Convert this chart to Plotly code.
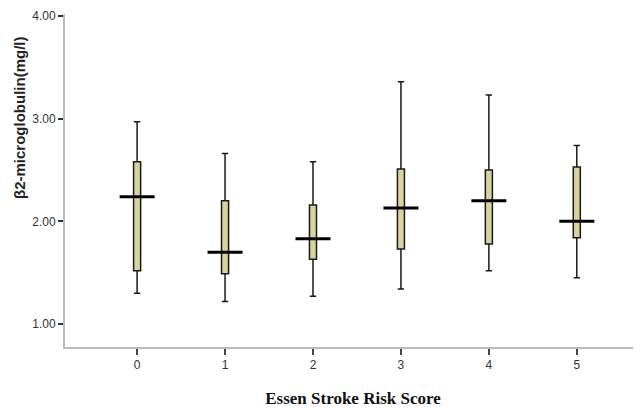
import plotly.graph_objects as go

categories = [0, 1, 2, 3, 4, 5]
tick_labels = ["0", "1", "2", "3", "4", "5"]
upper = [2.97, 2.66, 2.58, 3.36, 3.23, 2.74]
q3 = [2.58, 2.20, 2.16, 2.51, 2.50, 2.53]
median = [2.24, 1.70, 1.83, 2.13, 2.20, 2.00]
q1 = [1.52, 1.49, 1.63, 1.73, 1.78, 1.84]
lower = [1.30, 1.22, 1.27, 1.34, 1.52, 1.45]

fig = go.Figure()
fig.add_trace(go.Box(
    x=categories, q1=q1, median=median, q3=q3,
    lowerfence=lower, upperfence=upper,
    width=0.08, whiskerwidth=0.9,
    fillcolor="#d9d3a0",
    line=dict(color="#1a1a1a", width=1.5),
    boxpoints=False, showlegend=False, hoverinfo="skip",
))
fig.add_trace(go.Scatter(
    x=categories, y=median, mode="markers",
    marker=dict(symbol="line-ew", size=25,
                line=dict(color="#000000", width=3)),
    showlegend=False, hoverinfo="skip",
))

fig.update_layout(
    width=633, height=400,
    margin=dict(l=57, r=0, t=6, b=61),
    paper_bgcolor="white", plot_bgcolor="white",
    font=dict(family="Arial, Liberation Sans", size=12, color="#333333"),
    annotations=[dict(
        text="<b>β2-microglobulin(mg/l)</b>", textangle=-90,
        xref="paper", yref="paper", x=-0.078, y=0.688,
        xanchor="center", yanchor="middle", showarrow=False,
        font=dict(family="Arial, Liberation Sans", size=15, color="#222222"),
    )],
)
fig.update_xaxes(
    range=[-0.82, 5.73], tickvals=categories, ticktext=tick_labels,
    showgrid=False, zeroline=False,
    showline=True, linecolor="#bbbbbb", linewidth=2,
    ticks="outside", ticklen=6, tickcolor="#444444", tickwidth=1.5,
    tickfont=dict(size=12, color="#333333"),
    title=dict(text="<b>Essen Stroke Risk Score</b>",
               font=dict(family="Liberation Serif, Times New Roman", size=17, color="#111111"),
               standoff=22),
)
fig.update_yaxes(
    range=[0.776, 4.02], tickvals=[1, 2, 3, 4],
    ticktext=["1.00", "2.00", "3.00", "4.00"],
    showgrid=False, zeroline=False,
    showline=True, linecolor="#bbbbbb", linewidth=2,
    ticks="outside", ticklen=5, tickcolor="#333333", tickwidth=1.5,
    tickfont=dict(size=12, color="#333333"),
)

fig.write_html("out.html")
